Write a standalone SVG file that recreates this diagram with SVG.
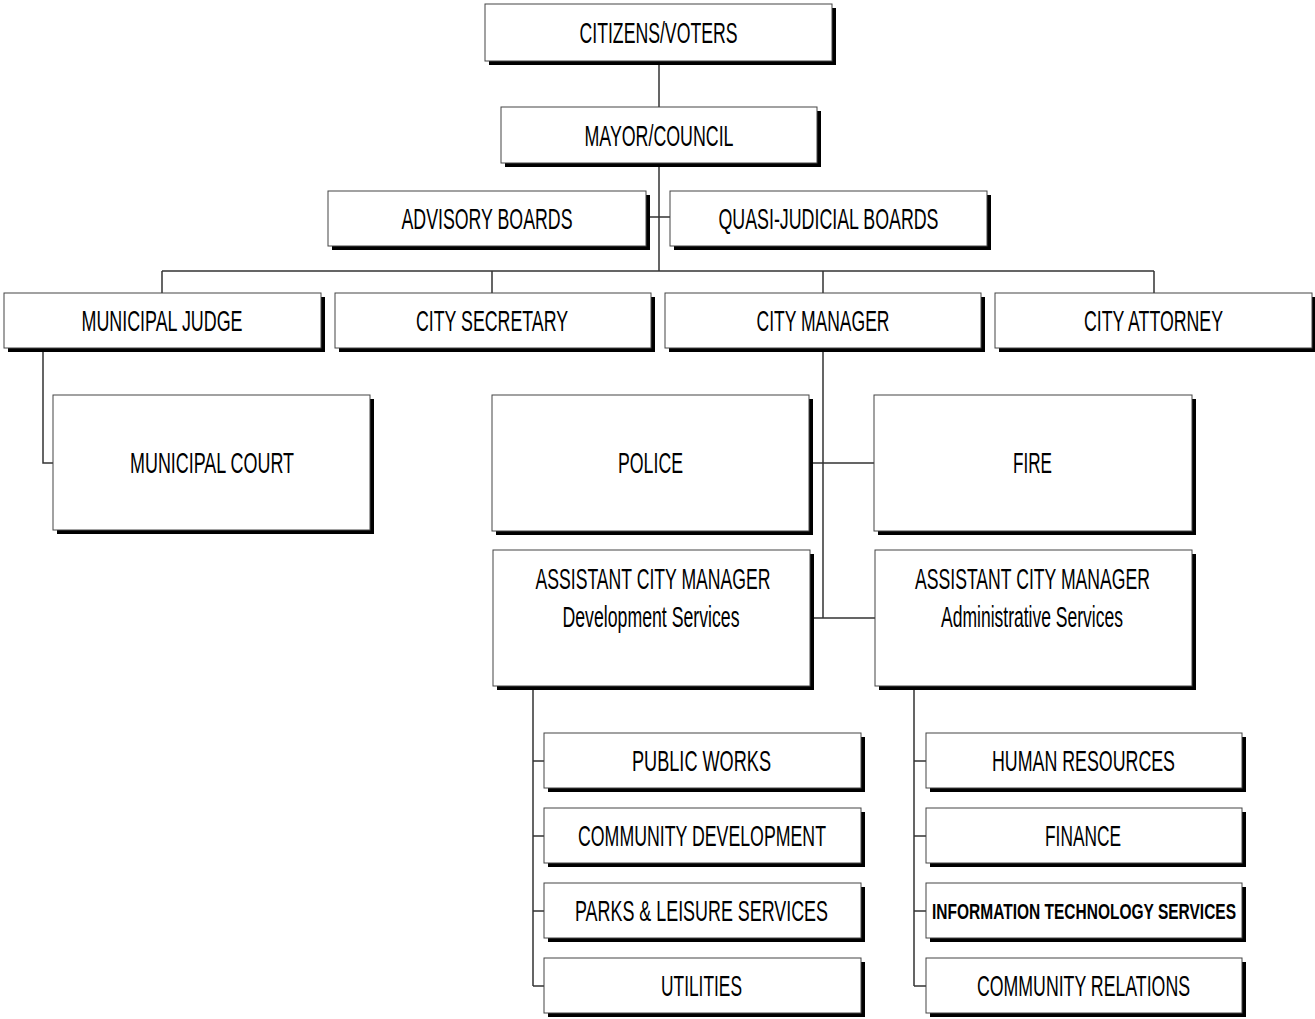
<svg xmlns="http://www.w3.org/2000/svg" width="1315" height="1019" viewBox="0 0 1315 1019">
<style>
.sh{fill:#000}
.bx{fill:#fff;stroke:#444;stroke-width:1}
.t{font-family:"Liberation Sans",Arial,sans-serif;font-size:30px;fill:#000;text-anchor:middle}
.tb{font-family:"Liberation Sans",Arial,sans-serif;font-size:22px;font-weight:bold;fill:#000;text-anchor:middle}
.c{stroke:#333;stroke-width:1.5;fill:none}
</style>
<rect width="1315" height="1019" fill="#fff"/>
<g id="connectors">
<path class="c" d="M659,61V107M659,163V271M646,217H670M162,271H1154M162,271V293M492,271V293M823,271V293M1154,271V293"/>
<path class="c" d="M43,348V463H53"/>
<path class="c" d="M823,348V618M810,463H874M810,618H875"/>
<path class="c" d="M533,686V986M533,761H544M533,836H544M533,911H544M533,986H544"/>
<path class="c" d="M914,686V986M914,761H926M914,836H926M914,911H926M914,986H926"/>
</g>
<g id="citizens"><rect class="sh" x="489" y="8" width="347" height="57"/><rect class="bx" x="485" y="4" width="347" height="57"/><text class="t" x="658.5" y="43" textLength="158" lengthAdjust="spacingAndGlyphs">CITIZENS/VOTERS</text></g>
<g id="mayor"><rect class="sh" x="505" y="111" width="316" height="56"/><rect class="bx" x="501" y="107" width="316" height="56"/><text class="t" x="659" y="146" textLength="149" lengthAdjust="spacingAndGlyphs">MAYOR/COUNCIL</text></g>
<g id="advisory"><rect class="sh" x="332" y="195" width="318" height="55"/><rect class="bx" x="328" y="191" width="318" height="55"/><text class="t" x="487" y="229" textLength="171" lengthAdjust="spacingAndGlyphs">ADVISORY BOARDS</text></g>
<g id="quasi"><rect class="sh" x="674" y="195" width="317" height="55"/><rect class="bx" x="670" y="191" width="317" height="55"/><text class="t" x="828.5" y="229" textLength="220" lengthAdjust="spacingAndGlyphs">QUASI-JUDICIAL BOARDS</text></g>
<g id="judge"><rect class="sh" x="8" y="297" width="317" height="55"/><rect class="bx" x="4" y="293" width="317" height="55"/><text class="t" x="162" y="331" textLength="161" lengthAdjust="spacingAndGlyphs">MUNICIPAL JUDGE</text></g>
<g id="secretary"><rect class="sh" x="339" y="297" width="316" height="55"/><rect class="bx" x="335" y="293" width="316" height="55"/><text class="t" x="492" y="331" textLength="152" lengthAdjust="spacingAndGlyphs">CITY SECRETARY</text></g>
<g id="manager"><rect class="sh" x="669" y="297" width="316" height="55"/><rect class="bx" x="665" y="293" width="316" height="55"/><text class="t" x="823" y="331" textLength="133" lengthAdjust="spacingAndGlyphs">CITY MANAGER</text></g>
<g id="attorney"><rect class="sh" x="999" y="297" width="317" height="55"/><rect class="bx" x="995" y="293" width="317" height="55"/><text class="t" x="1153.5" y="331" textLength="139" lengthAdjust="spacingAndGlyphs">CITY ATTORNEY</text></g>
<g id="court"><rect class="sh" x="57" y="399" width="317" height="135"/><rect class="bx" x="53" y="395" width="317" height="135"/><text class="t" x="212" y="473" textLength="164" lengthAdjust="spacingAndGlyphs">MUNICIPAL COURT</text></g>
<g id="police"><rect class="sh" x="496" y="399" width="317" height="136"/><rect class="bx" x="492" y="395" width="317" height="136"/><text class="t" x="650.5" y="473" textLength="65" lengthAdjust="spacingAndGlyphs">POLICE</text></g>
<g id="fire"><rect class="sh" x="878" y="399" width="318" height="136"/><rect class="bx" x="874" y="395" width="318" height="136"/><text class="t" x="1032.5" y="473" textLength="39" lengthAdjust="spacingAndGlyphs">FIRE</text></g>
<g id="acm-dev"><rect class="sh" x="497" y="554" width="317" height="136"/><rect class="bx" x="493" y="550" width="317" height="136"/><text class="t" x="653" y="589" textLength="235" lengthAdjust="spacingAndGlyphs">ASSISTANT CITY MANAGER</text><text class="t" x="651" y="627" textLength="177" lengthAdjust="spacingAndGlyphs">Development Services</text></g>
<g id="acm-admin"><rect class="sh" x="879" y="554" width="317" height="136"/><rect class="bx" x="875" y="550" width="317" height="136"/><text class="t" x="1032.5" y="589" textLength="235" lengthAdjust="spacingAndGlyphs">ASSISTANT CITY MANAGER</text><text class="t" x="1032" y="627" textLength="182" lengthAdjust="spacingAndGlyphs">Administrative Services</text></g>
<g id="public-works"><rect class="sh" x="548" y="737" width="317" height="55"/><rect class="bx" x="544" y="733" width="317" height="55"/><text class="t" x="701.5" y="771" textLength="139" lengthAdjust="spacingAndGlyphs">PUBLIC WORKS</text></g>
<g id="community-development"><rect class="sh" x="548" y="812" width="317" height="55"/><rect class="bx" x="544" y="808" width="317" height="55"/><text class="t" x="702" y="846" textLength="248" lengthAdjust="spacingAndGlyphs">COMMUNITY DEVELOPMENT</text></g>
<g id="parks"><rect class="sh" x="548" y="887" width="317" height="55"/><rect class="bx" x="544" y="883" width="317" height="55"/><text class="t" x="701.5" y="921" textLength="253" lengthAdjust="spacingAndGlyphs">PARKS &amp; LEISURE SERVICES</text></g>
<g id="utilities"><rect class="sh" x="548" y="962" width="317" height="55"/><rect class="bx" x="544" y="958" width="317" height="55"/><text class="t" x="701.5" y="996" textLength="81" lengthAdjust="spacingAndGlyphs">UTILITIES</text></g>
<g id="human-resources"><rect class="sh" x="930" y="737" width="316" height="55"/><rect class="bx" x="926" y="733" width="316" height="55"/><text class="t" x="1083.5" y="771" textLength="183" lengthAdjust="spacingAndGlyphs">HUMAN RESOURCES</text></g>
<g id="finance"><rect class="sh" x="930" y="812" width="316" height="55"/><rect class="bx" x="926" y="808" width="316" height="55"/><text class="t" x="1083" y="846" textLength="76" lengthAdjust="spacingAndGlyphs">FINANCE</text></g>
<g id="it-services"><rect class="sh" x="930" y="887" width="316" height="55"/><rect class="bx" x="926" y="883" width="316" height="55"/><text class="tb" x="1084" y="919" textLength="304" lengthAdjust="spacingAndGlyphs">INFORMATION TECHNOLOGY SERVICES</text></g>
<g id="community-relations"><rect class="sh" x="930" y="962" width="316" height="55"/><rect class="bx" x="926" y="958" width="316" height="55"/><text class="t" x="1083.5" y="996" textLength="213" lengthAdjust="spacingAndGlyphs">COMMUNITY RELATIONS</text></g>
</svg>
